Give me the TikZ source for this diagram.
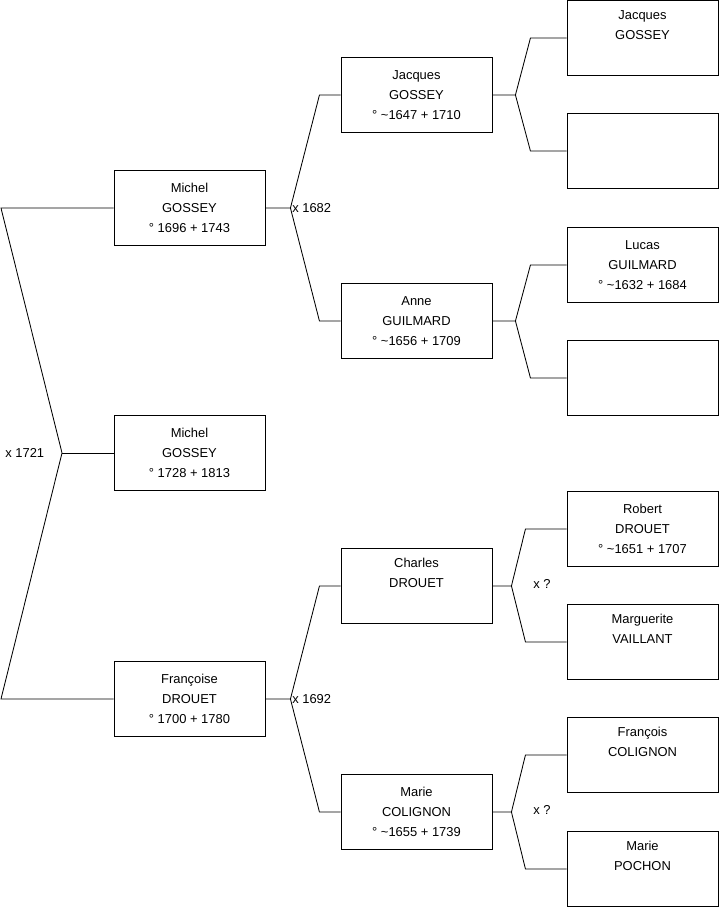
\documentclass[tikz,border=0pt]{standalone}
\usepackage{fontspec}
\setmainfont{Liberation Sans}
\usetikzlibrary{positioning,calc}

\begin{document}
\begin{tikzpicture}[
  x=0.025cm, y=-0.025cm,
  line width=0.6pt,
  every node/.style={font=\fontsize{9.2}{14.2}\selectfont},
  person/.style={draw, minimum width=3.775cm, minimum height=1.875cm,
    align=center, inner sep=0pt},
  mariage/.style={inner sep=1pt}
]
\useasboundingbox (0,0) rectangle (719,908);
% generation 1
\node[person] (f) at (189.5,208) {Michel\\GOSSEY\\° 1696 + 1743};
\node[person] (c) at (189.5,453) {Michel\\GOSSEY\\° 1728 + 1813};
\node[person] (m) at (189.5,699) {Françoise\\DROUET\\° 1700 + 1780};
% generation 2
\node[person] (ff) at (416.5,95) {Jacques\\GOSSEY\\° \textasciitilde1647 + 1710};
\node[person] (fm) at (416.5,321) {Anne\\GUILMARD\\° \textasciitilde1656 + 1709};
\node[person] (mf) at (416.5,586) {Charles\\DROUET\\\strut};
\node[person] (mm) at (416.5,812) {Marie\\COLIGNON\\° \textasciitilde1655 + 1739};
% generation 3
\node[person] (fff) at (642.5,38) {Jacques\\GOSSEY\\\strut};
\node[person] (ffm) at (642.5,151) {};
\node[person] (fmf) at (642.5,265) {Lucas\\GUILMARD\\° \textasciitilde1632 + 1684};
\node[person] (fmm) at (642.5,378) {};
\node[person] (mff) at (642.5,529) {Robert\\DROUET\\° \textasciitilde1651 + 1707};
\node[person] (mfm) at (642.5,642) {Marguerite\\VAILLANT\\\strut};
\node[person] (mmf) at (642.5,755) {François\\COLIGNON\\\strut};
\node[person] (mmm) at (642.5,869) {Marie\\POCHON\\\strut};

% parents of the child
\coordinate (l1) at (1,208);
\coordinate (j0) at (62,453);
\coordinate (l2) at (1,699);
\draw (f.west) -- (l1) -- (j0) -- (l2) -- (m.west);
\draw (j0) -- (c.west);
\node[mariage, anchor=east] (x0) at ($(j0)+(-16,0)$) {x 1721};

% forks to the parents
\foreach \p/\u/\l/\a/\b in {f/ff/fm/25/54, m/mf/mm/25/54,
    ff/fff/ffm/23/38, fm/fmf/fmm/23/38,
    mf/mff/mfm/19/33, mm/mmf/mmm/19/33}{
  \coordinate (\p-j) at ($(\p.east)+(\a,0)$);
  \coordinate (\p-k) at ($(\p.east)+(\b,0)$);
  \draw (\p.east) -- (\p-j) -- (\p-k |- \u.west) -- (\u.west);
  \draw (\p-j) -- (\p-k |- \l.west) -- (\l.west);
}
\node[mariage, anchor=west] (x1) at (f-j) {x 1682};
\node[mariage, anchor=west] (x2) at (m-j) {x 1692};
\node[mariage, anchor=west] (x3) at ($(mf-j)+(20,-2)$) {x ?};
\node[mariage, anchor=west] (x4) at ($(mm-j)+(20,-2)$) {x ?};
\end{tikzpicture}
\end{document}
